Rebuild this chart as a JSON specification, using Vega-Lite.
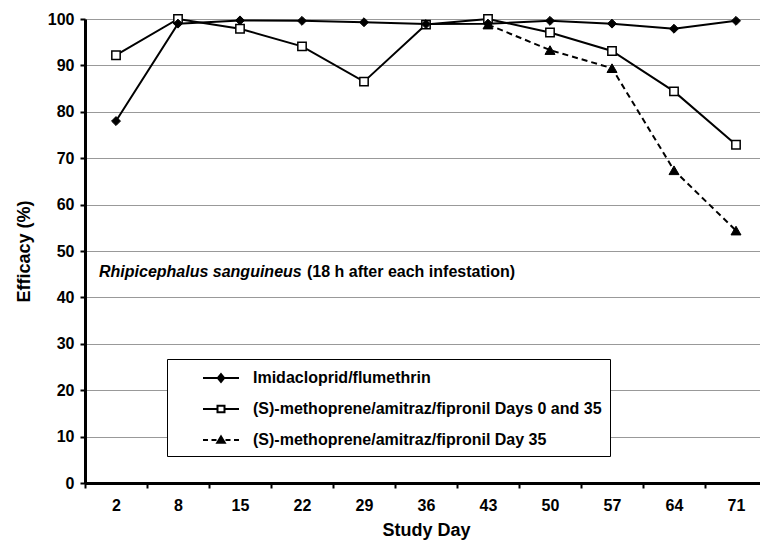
{
  "$schema": "https://vega.github.io/schema/vega-lite/v6.json",
  "width": 682,
  "height": 464,
  "autosize": "none",
  "padding": {"left": 85, "top": 19, "right": 0, "bottom": 64},
  "background": "white",
  "config": {
    "font": "Liberation Sans",
    "view": {"stroke": null},
    "axis": {
      "labelFont": "Liberation Sans",
      "labelFontSize": 16,
      "labelFontWeight": "bold",
      "labelColor": "black",
      "titleFont": "Liberation Sans",
      "titleFontSize": 18,
      "titleFontWeight": "bold",
      "titleColor": "black",
      "domainColor": "black",
      "domainWidth": 3,
      "tickColor": "black",
      "tickWidth": 2,
      "tickSize": 5
    }
  },
  "data": {
    "values": [
      {"day": "2", "series": "Imidacloprid/flumethrin", "efficacy": 78},
      {"day": "8", "series": "Imidacloprid/flumethrin", "efficacy": 99},
      {"day": "15", "series": "Imidacloprid/flumethrin", "efficacy": 99.7},
      {"day": "22", "series": "Imidacloprid/flumethrin", "efficacy": 99.6},
      {"day": "29", "series": "Imidacloprid/flumethrin", "efficacy": 99.3},
      {"day": "36", "series": "Imidacloprid/flumethrin", "efficacy": 98.9},
      {"day": "43", "series": "Imidacloprid/flumethrin", "efficacy": 99},
      {"day": "50", "series": "Imidacloprid/flumethrin", "efficacy": 99.6},
      {"day": "57", "series": "Imidacloprid/flumethrin", "efficacy": 99},
      {"day": "64", "series": "Imidacloprid/flumethrin", "efficacy": 97.9},
      {"day": "71", "series": "Imidacloprid/flumethrin", "efficacy": 99.6},
      {"day": "2", "series": "(S)-methoprene/amitraz/fipronil Days 0 and 35", "efficacy": 92.2},
      {"day": "8", "series": "(S)-methoprene/amitraz/fipronil Days 0 and 35", "efficacy": 100},
      {"day": "15", "series": "(S)-methoprene/amitraz/fipronil Days 0 and 35", "efficacy": 97.9},
      {"day": "22", "series": "(S)-methoprene/amitraz/fipronil Days 0 and 35", "efficacy": 94.1},
      {"day": "29", "series": "(S)-methoprene/amitraz/fipronil Days 0 and 35", "efficacy": 86.5},
      {"day": "36", "series": "(S)-methoprene/amitraz/fipronil Days 0 and 35", "efficacy": 98.8},
      {"day": "43", "series": "(S)-methoprene/amitraz/fipronil Days 0 and 35", "efficacy": 100},
      {"day": "50", "series": "(S)-methoprene/amitraz/fipronil Days 0 and 35", "efficacy": 97.1},
      {"day": "57", "series": "(S)-methoprene/amitraz/fipronil Days 0 and 35", "efficacy": 93.1},
      {"day": "64", "series": "(S)-methoprene/amitraz/fipronil Days 0 and 35", "efficacy": 84.4},
      {"day": "71", "series": "(S)-methoprene/amitraz/fipronil Days 0 and 35", "efficacy": 72.9},
      {"day": "43", "series": "(S)-methoprene/amitraz/fipronil Day 35", "efficacy": 98.8},
      {"day": "50", "series": "(S)-methoprene/amitraz/fipronil Day 35", "efficacy": 93.3},
      {"day": "57", "series": "(S)-methoprene/amitraz/fipronil Day 35", "efficacy": 89.4},
      {"day": "64", "series": "(S)-methoprene/amitraz/fipronil Day 35", "efficacy": 67.4},
      {"day": "71", "series": "(S)-methoprene/amitraz/fipronil Day 35", "efficacy": 54.4}
    ]
  },
  "encoding": {
    "x": {
      "field": "day",
      "type": "ordinal",
      "sort": ["2", "8", "15", "22", "29", "36", "43", "50", "57", "64", "71"],
      "scale": {"type": "band", "domain": ["2", "8", "15", "22", "29", "36", "43", "50", "57", "64", "71"], "paddingInner": 0, "paddingOuter": 0},
      "axis": {"title": "Study Day", "labelAngle": 0, "tickBand": "extent", "labelPadding": 9, "titlePadding": 8, "grid": false}
    },
    "y": {
      "field": "efficacy",
      "type": "quantitative",
      "scale": {"domain": [0, 100], "nice": false},
      "axis": {
        "title": "Efficacy (%)",
        "values": [0, 10, 20, 30, 40, 50, 60, 70, 80, 90, 100],
        "labelPadding": 6,
        "titlePadding": 14,
        "grid": true,
        "gridColor": "#333333",
        "gridDash": [1, 1],
        "gridWidth": 1
      }
    }
  },
  "layer": [
    {
      "transform": [{"filter": "datum.series !== '(S)-methoprene/amitraz/fipronil Day 35'"}],
      "mark": {"type": "line", "strokeWidth": 2, "color": "black"},
      "encoding": {"detail": {"field": "series"}}
    },
    {
      "transform": [{"filter": "datum.series === '(S)-methoprene/amitraz/fipronil Day 35'"}],
      "mark": {"type": "line", "strokeWidth": 2, "color": "black", "strokeDash": [6, 4]},
      "encoding": {"detail": {"field": "series"}}
    },
    {
      "transform": [{"filter": "datum.series === '(S)-methoprene/amitraz/fipronil Days 0 and 35'"}],
      "mark": {"type": "point", "shape": "square", "size": 70, "filled": true, "fill": "white", "stroke": "black", "strokeWidth": 1.5, "opacity": 1}
    },
    {
      "transform": [{"filter": "datum.series === '(S)-methoprene/amitraz/fipronil Day 35'"}],
      "mark": {"type": "point", "shape": "triangle-up", "size": 100, "filled": true, "fill": "black", "stroke": "black", "strokeWidth": 1, "opacity": 1}
    },
    {
      "transform": [{"filter": "datum.series === 'Imidacloprid/flumethrin'"}],
      "mark": {"type": "point", "shape": "diamond", "size": 80, "filled": true, "fill": "black", "stroke": "black", "strokeWidth": 1, "opacity": 1}
    },
    {
      "mark": {"type": "point", "filled": true, "opacity": 0, "strokeWidth": 2},
      "encoding": {
        "fill": {
          "field": "series",
          "scale": {
            "domain": ["Imidacloprid/flumethrin", "(S)-methoprene/amitraz/fipronil Days 0 and 35", "(S)-methoprene/amitraz/fipronil Day 35"],
            "range": ["black", "white", "black"]
          }
        },
        "stroke": {
          "field": "series",
          "scale": {
            "domain": ["Imidacloprid/flumethrin", "(S)-methoprene/amitraz/fipronil Days 0 and 35", "(S)-methoprene/amitraz/fipronil Day 35"],
            "range": ["black", "black", "black"]
          }
        },
        "shape": {
          "field": "series",
          "scale": {
            "domain": ["Imidacloprid/flumethrin", "(S)-methoprene/amitraz/fipronil Days 0 and 35", "(S)-methoprene/amitraz/fipronil Day 35"],
            "range": [
              "M-1.8,0H1.8M0,-0.4L0.32,0L0,0.4L-0.32,0Z",
              "M-1.8,0H-0.35M0.35,0H1.8M-0.35,-0.32H0.35V0.32H-0.35Z",
              "M-1.8,0H-1.3M-0.95,0H-0.45M0.45,0H0.95M1.3,0H1.8M-0.38,0.28L0,-0.35L0.38,0.28Z"
            ]
          },
          "legend": {
            "title": null,
            "orient": "none",
            "legendX": 82,
            "legendY": 340,
            "direction": "vertical",
            "strokeColor": "black",
            "fillColor": "white",
            "padding": 8,
            "symbolSize": 400,
            "symbolStrokeWidth": 2,
            "symbolOpacity": 1,
            "symbolOffset": 35,
            "labelOffset": 21,
            "labelFont": "Liberation Sans",
            "labelFontSize": 16,
            "labelFontWeight": "bold",
            "labelColor": "black",
            "labelLimit": 700,
            "rowPadding": 12,
            "encode": {
              "symbols": {"update": {"opacity": {"value": 1}, "strokeWidth": {"value": 2}}}
            }
          }
        }
      }
    },
    {
      "data": {"values": [{"day": "2", "efficacy": 45.4, "label": "Rhipicephalus sanguineus"}]},
      "mark": {"type": "text", "align": "left", "baseline": "middle", "dx": -17, "font": "Liberation Sans", "fontSize": 16, "fontWeight": "bold", "fontStyle": "italic", "color": "black"},
      "encoding": {"text": {"field": "label"}}
    },
    {
      "data": {"values": [{"day": "2", "efficacy": 45.4, "label": "(18 h after each infestation)"}]},
      "mark": {"type": "text", "align": "left", "baseline": "middle", "dx": 191, "font": "Liberation Sans", "fontSize": 16, "fontWeight": "bold", "color": "black"},
      "encoding": {"text": {"field": "label"}}
    }
  ]
}
